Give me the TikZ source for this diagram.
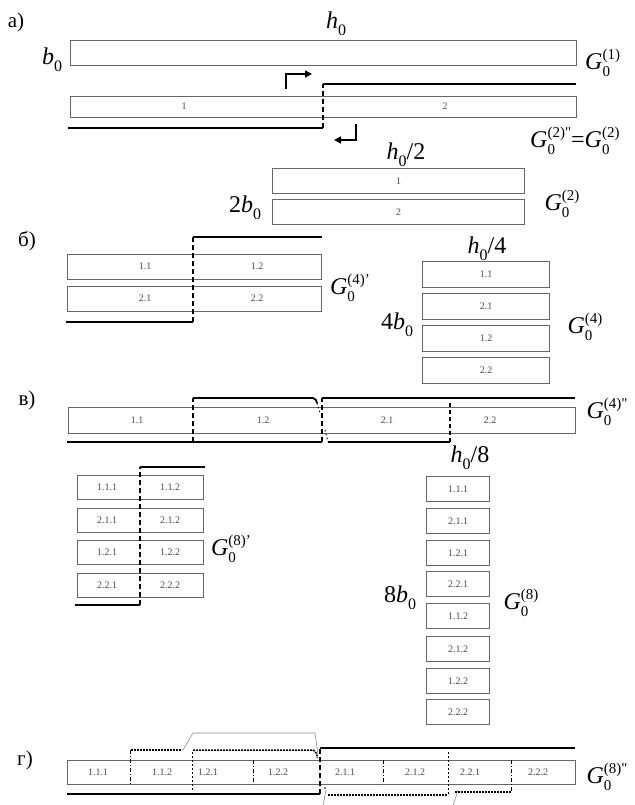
\documentclass[tikz,border=0pt]{standalone}
\usepackage{fontspec}
\setmainfont{Liberation Serif}
\usetikzlibrary{arrows.meta}
\newcommand{\smf}{\fontsize{15}{15}\selectfont}
\newcommand{\Gl}[1]{\textit{G}\makebox[0pt][l]{\raisebox{-0.3em}{\smf 0}}\raisebox{0.42em}{\smf #1}}
\newcommand{\hl}{\textit{h}\raisebox{-0.28em}{\fontsize{16}{16}\selectfont 0}}
\newcommand{\bl}{\textit{b}\raisebox{-0.28em}{\fontsize{16}{16}\selectfont 0}}
\begin{document}
\begin{tikzpicture}[x=1pt,y=-1pt,
  box/.style={draw=black!60, line width=1.1pt, inner sep=0pt, anchor=north west,
    font=\fontsize{10}{10}\selectfont, text=black!70},
  cl/.style={inner sep=0pt, font=\fontsize{10}{10}\selectfont, text=black!70},
  big/.style={inner sep=0pt, font=\fontsize{24}{24}\selectfont},
  sec/.style={inner sep=0pt, font=\fontsize{21}{21}\selectfont},
  heavy/.style={line width=1.8pt, black},
  hdash/.style={line width=1.8pt, black, dash pattern=on 5pt off 3pt},
  hdot/.style={line width=1.5pt, black, dash pattern=on 2pt off 1pt},
  tdiv/.style={line width=0.8pt, black, dash pattern=on 4pt off 2pt on 1pt off 2pt},
  tdot/.style={line width=1pt, black, dash pattern=on 1.5pt off 2.5pt},
  mdash/.style={line width=1.2pt, black, dash pattern=on 4pt off 3pt},
  greyl/.style={black!45, line width=0.6pt},
  arr/.style={line width=1.6pt, black, -{Triangle[length=7pt,width=7pt]}}]
\useasboundingbox (0,0) rectangle (634,805);
\fill[white] (0,0) rectangle (634,805);

% ---------- a)
\node[sec] (secA) at (16,22) {а)};
\node[big] (hA) at (336,24) {\hl};
\node[box, minimum width=506, minimum height=25] (rA) at (70,40) {};
\node[big] (bA) at (52,60) {\bl};
\node[big, anchor=west] (gA) at (585,63) {\Gl{(1)}};
\node[box, minimum width=506, minimum height=21] (sA) at (70,96) {};
\node[cl] (sA1) at (184,106.5) {1};
\node[cl] (sA2) at (445,106.5) {2};
\coordinate (aU1) at (323,84); \coordinate (aU2) at (576,84);
\coordinate (aL1) at (68,128); \coordinate (aL2) at (323,128);
\draw[heavy] (aL1) -- (aL2);
\draw[hdash] (aL2) -- (aU1);
\draw[heavy] (aU1) -- (aU2);
\coordinate (ar1a) at (286,89); \coordinate (ar1b) at (286,74); \coordinate (ar1c) at (312,74);
\draw[arr] (ar1a) -- (ar1b) -- (ar1c);
\coordinate (ar2a) at (356,124); \coordinate (ar2b) at (356,140); \coordinate (ar2c) at (334,140);
\draw[arr] (ar2a) -- (ar2b) -- (ar2c);
\node[big, anchor=west] (gAeq) at (530,141) {\Gl{(2)\textquotedbl}=\Gl{(2)}};

% ---------- h0/2
\node[big] (hB) at (406,155) {\hl/2};
\node[box, minimum width=252, minimum height=25] (rB1) at (272,168) {1};
\node[box, minimum width=252, minimum height=25] (rB2) at (272,199) {2};
\node[big] (bB) at (245,208) {2\bl};
\node[big] (gB) at (562,204) {\Gl{(2)}};

% ---------- b)
\node[sec] (secB) at (27,241) {б)};
\node[box, minimum width=254, minimum height=25] (rC1) at (67,254) {};
\node[cl] (c11) at (145,266) {1.1};
\node[cl] (c12) at (257,266) {1.2};
\node[box, minimum width=254, minimum height=25] (rC2) at (67,286) {};
\node[cl] (c21) at (145,298) {2.1};
\node[cl] (c22) at (257,298) {2.2};
\coordinate (bU1) at (193,237); \coordinate (bU2) at (322,237);
\coordinate (bL1) at (66,322); \coordinate (bL2) at (193,322);
\draw[heavy] (bL1) -- (bL2);
\draw[hdash] (bL2) -- (bU1);
\draw[heavy] (bU1) -- (bU2);
\node[big] (gC) at (350,288) {\Gl{(4)'}};

% ---------- h0/4 column
\node[big] (hD) at (487,249) {\hl/4};
\node[box, minimum width=127, minimum height=26] (d1) at (422,261) {1.1};
\node[box, minimum width=127, minimum height=26] (d2) at (422,293) {2.1};
\node[box, minimum width=127, minimum height=26] (d3) at (422,325) {1.2};
\node[box, minimum width=127, minimum height=26] (d4) at (422,357) {2.2};
\node[big] (bD) at (397,325) {4\bl};
\node[big] (gD) at (585,327) {\Gl{(4)}};

% ---------- v)
\node[sec] (secC) at (27,400) {в)};
\node[box, minimum width=507, minimum height=26] (sE) at (68,407) {};
\node[cl] (e11) at (137,420) {1.1};
\node[cl] (e12) at (263,420) {1.2};
\node[cl] (e21) at (387,420) {2.1};
\node[cl] (e22) at (490,420) {2.2};
\coordinate (eA1) at (67,442); \coordinate (eA2) at (322,442);
\coordinate (eA3) at (322,398); \coordinate (eA4) at (575,398);
\draw[heavy] (eA1) -- (eA2);
\draw[hdash] (eA2) -- (eA3);
\draw[heavy] (eA3) -- (eA4);
\coordinate (eB1) at (193,442); \coordinate (eB2) at (193,398);
\coordinate (eB3) at (313,398); \coordinate (eB4) at (317,403); \coordinate (eB5) at (320,413);
\draw[hdash] (eB1) -- (eB2);
\draw[heavy] (eB2) -- (eB3) to[bend left=35] (eB4);
\draw[tdot] (eB4) -- (eB5);
\coordinate (eC0) at (325,430); \coordinate (eC1) at (328,442);
\coordinate (eC2) at (450,442); \coordinate (eC3) at (450,401);
\draw[tdot] (eC0) -- (eC1);
\draw[heavy] (eC1) -- (eC2);
\draw[mdash] (eC2) -- (eC3);
\node[big] (gE) at (607,412) {\Gl{(4)\textquotedbl}};

% ---------- G0(8)'
\node[box, minimum width=126, minimum height=24] (f1) at (77,475) {};
\node[cl] (f11) at (107,487) {1.1.1};
\node[cl] (f12) at (170,487) {1.1.2};
\node[box, minimum width=126, minimum height=24] (f2) at (77,508) {};
\node[cl] (f21) at (107,520) {2.1.1};
\node[cl] (f22) at (170,520) {2.1.2};
\node[box, minimum width=126, minimum height=24] (f3) at (77,540) {};
\node[cl] (f31) at (107,552) {1.2.1};
\node[cl] (f32) at (170,552) {1.2.2};
\node[box, minimum width=126, minimum height=24] (f4) at (77,573) {};
\node[cl] (f41) at (107,585) {2.2.1};
\node[cl] (f42) at (170,585) {2.2.2};
\coordinate (fU1) at (140,467); \coordinate (fU2) at (205,467);
\coordinate (fL1) at (75,605); \coordinate (fL2) at (140,605);
\draw[heavy] (fL1) -- (fL2);
\draw[hdash] (fL2) -- (fU1);
\draw[heavy] (fU1) -- (fU2);
\node[big] (gF) at (231,549) {\Gl{(8)'}};

% ---------- h0/8 column
\node[big] (hG) at (470,458) {\hl/8};
\node[box, minimum width=63, minimum height=25] (g1) at (426,476) {1.1.1};
\node[box, minimum width=63, minimum height=25] (g2) at (426,508) {2.1.1};
\node[box, minimum width=63, minimum height=25] (g3) at (426,540) {1.2.1};
\node[box, minimum width=63, minimum height=25] (g4) at (426,571) {2.2.1};
\node[box, minimum width=63, minimum height=25] (g5) at (426,603) {1.1.2};
\node[box, minimum width=63, minimum height=25] (g6) at (426,636) {2.1.2};
\node[box, minimum width=63, minimum height=25] (g7) at (426,668) {1.2.2};
\node[box, minimum width=63, minimum height=25] (g8) at (426,699) {2.2.2};
\node[big] (bG) at (400,598) {8\bl};
\node[big] (gG) at (521,603) {\Gl{(8)}};

% ---------- g)
\node[sec] (secD) at (25,760) {г)};
\node[box, minimum width=508, minimum height=24] (sH) at (67,760) {};
\node[cl] (h1) at (98,772) {1.1.1};
\node[cl] (h2) at (162,772) {1.1.2};
\node[cl] (h3) at (208,772) {1.2.1};
\node[cl] (h4) at (278,772) {1.2.2};
\node[cl] (h5) at (345,772) {2.1.1};
\node[cl] (h6) at (415,772) {2.1.2};
\node[cl] (h7) at (470,772) {2.2.1};
\node[cl] (h8) at (538,772) {2.2.2};
% dividers
\coordinate (d130a) at (130,750); \coordinate (d130b) at (130,784);
\coordinate (d253a) at (253,760); \coordinate (d253b) at (253,784);
\coordinate (d383a) at (383,760); \coordinate (d383b) at (383,784);
\coordinate (d511a) at (511,760); \coordinate (d511b) at (511,792);
\coordinate (d192a) at (192,752); \coordinate (d192b) at (192,791);
\coordinate (d448a) at (448,752); \coordinate (d448b) at (448,794);
\draw[tdiv] (d130a) -- (d130b);
\draw[tdiv] (d253a) -- (d253b);
\draw[tdiv] (d383a) -- (d383b);
\draw[tdiv] (d511a) -- (d511b);
\draw[tdot] (d192a) -- (d192b);
\draw[tdot] (d448a) -- (d448b);
% heavy main line
\coordinate (hA1) at (67,794); \coordinate (hA2) at (320,794);
\coordinate (hA3) at (320,748); \coordinate (hA4) at (575,748);
\draw[heavy] (hA1) -- (hA2);
\draw[hdash] (hA2) -- (hA3);
\draw[heavy] (hA3) -- (hA4);
% dotted top segments
\coordinate (hT1) at (131,750); \coordinate (hT2) at (182,750);
\coordinate (hT3) at (193,750); \coordinate (hT4) at (313,750);
\coordinate (hT5) at (317,758);
\draw[hdot] (hT1) -- (hT2);
\draw[hdot] (hT3) -- (hT4) to[bend left=35] (hT5);
% grey trapezoid
\coordinate (gr1) at (183,750); \coordinate (gr2) at (193,733);
\coordinate (gr3) at (315,733); \coordinate (gr4) at (318,755);
\draw[greyl] (gr1) -- (gr2) -- (gr3) -- (gr4);
% dotted bottom segments
\coordinate (hB0) at (325,788);
\coordinate (hB1) at (328,795); \coordinate (hB2) at (448,795);
\coordinate (hB3) at (455,792); \coordinate (hB4) at (511,792);
\fill (hB0) circle (0.9);
\draw[hdot] (hB1) -- (hB2);
\draw[hdot] (hB3) -- (hB4);
% grey lines below
\coordinate (gl1) at (326,790); \coordinate (gl2) at (323,806);
\coordinate (gl3) at (458,790); \coordinate (gl4) at (453,806);
\draw[greyl] (gl1) -- (gl2);
\draw[greyl] (gl3) -- (gl4);
\node[big] (gH) at (607,777) {\Gl{(8)\textquotedbl}};
\end{tikzpicture}
\end{document}
